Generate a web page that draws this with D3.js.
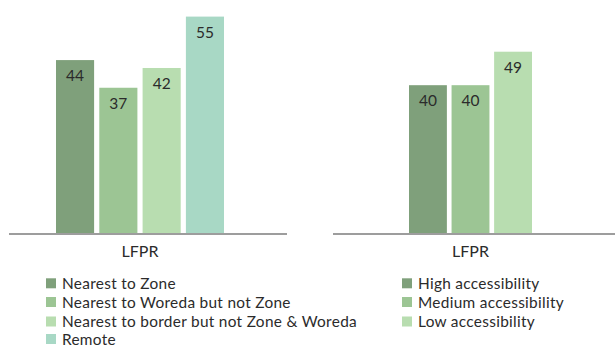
<!DOCTYPE html>
<html>
<head>
<meta charset="utf-8">
<script src="https://cdn.jsdelivr.net/npm/d3@7"></script>
<style>
  html, body { margin: 0; padding: 0; background: #fff; }
  svg { display: block; font-family: Lato, "Noto Sans", sans-serif; }
</style>
</head>
<body>
<svg id="chart" width="615" height="346"></svg>
<script>
// Labour force participation rate by location group
const groupLabel = ["LFPR"];

const locationSeries = ["Nearest to Zone", "Nearest to Woreda but not Zone", "Nearest to border but not Zone & Woreda", "Remote"];
const locationValues = [44, 37, 42, 55];

const accessSeries = ["High accessibility", "Medium accessibility", "Low accessibility"];
const accessValues = [40, 40, 49];

const locationColors = ["#7fa07b", "#9cc594", "#b8ddb0", "#a8d8c5"];
const accessColors = ["#7fa07b", "#9cc594", "#b8ddb0"];

const svg = d3.select("#chart");
const baseY = 234;

const panels = [
  { series: locationSeries, values: locationValues, colors: locationColors,
    axis: [9, 287], bars: [56, 224], pad: 0.12, yMax: 59.2,
    legendX: 46, legendRows: [283.3, 302, 321.5, 339] },
  { series: accessSeries, values: accessValues, colors: accessColors,
    axis: [333, 615], bars: [409, 532], pad: 0.11, yMax: 62.9,
    legendX: 402, legendRows: [283.3, 302, 321.5] }
];

panels.forEach(p => {
  const g = svg.append("g");
  const x = d3.scaleBand().domain(p.series).range(p.bars).paddingInner(p.pad);
  const y = d3.scaleLinear().domain([0, p.yMax]).range([baseY, 0]);
  const data = p.series.map((s, i) => ({ s, v: p.values[i], c: p.colors[i] }));

  g.selectAll("rect.bar").data(data).join("rect")
    .attr("class", "bar")
    .attr("x", d => x(d.s))
    .attr("width", x.bandwidth())
    .attr("y", d => y(d.v))
    .attr("height", d => y(0) - y(d.v))
    .attr("fill", d => d.c);

  g.selectAll("text.val").data(data).join("text")
    .attr("class", "val")
    .attr("x", d => x(d.s) + x.bandwidth() / 2)
    .attr("y", d => y(d.v) + 21)
    .attr("text-anchor", "middle")
    .attr("font-size", 15.5)
    .attr("fill", "#2b2b2b")
    .text(d => d.v);

  // category axis
  const xg = d3.scaleBand().domain(groupLabel).range(p.bars);
  const axis = d3.axisBottom(xg).tickSize(0).tickPadding(0);
  const ag = g.append("g").attr("transform", `translate(0,${baseY})`).call(axis);
  ag.select(".domain").remove();
  ag.selectAll(".tick text")
    .attr("dy", null).attr("y", 23)
    .attr("font-size", 16).attr("font-family", "Lato, 'Noto Sans', sans-serif")
    .attr("fill", "#2b2b2b");
  g.append("line")
    .attr("x1", p.axis[0]).attr("x2", p.axis[1])
    .attr("y1", baseY).attr("y2", baseY)
    .attr("stroke", "#9d9d9d").attr("stroke-width", 2);

  // legend
  const lg = g.selectAll("g.leg").data(data).join("g")
    .attr("class", "leg")
    .attr("transform", (d, i) => `translate(${p.legendX},${p.legendRows[i]})`);
  lg.append("rect").attr("x", 0).attr("y", -5).attr("width", 10).attr("height", 10)
    .attr("fill", d => d.c);
  lg.append("text").attr("x", 16).attr("y", 5.5)
    .attr("font-size", 15.4).attr("letter-spacing", 0.3).attr("fill", "#2b2b2b")
    .text(d => d.s);
});
</script>
</body>
</html>
